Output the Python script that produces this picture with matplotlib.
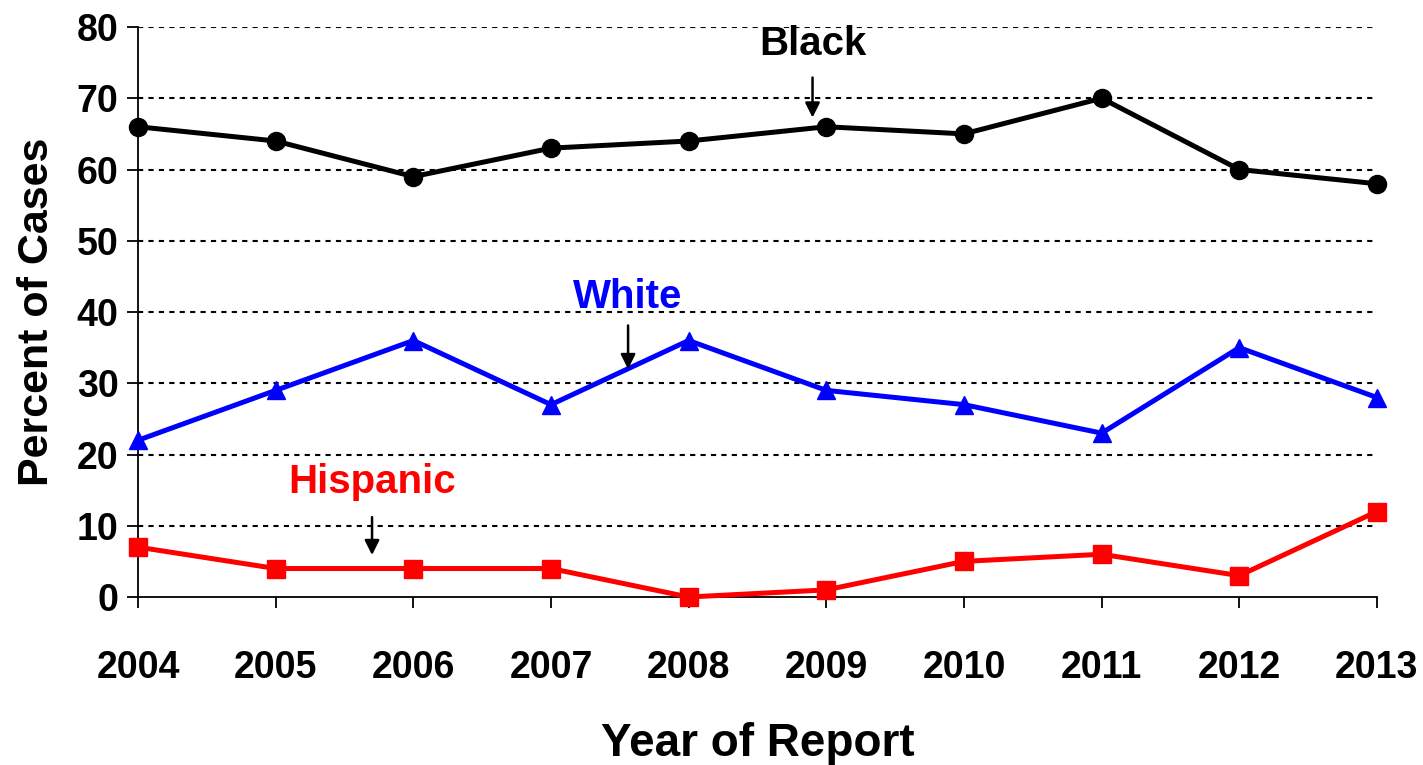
import matplotlib
matplotlib.use('Agg')
import matplotlib.pyplot as plt

years = [2004, 2005, 2006, 2007, 2008, 2009, 2010, 2011, 2012, 2013]
black = [66, 64, 59, 63, 64, 66, 65, 70, 60, 58]
white = [22, 29, 36, 27, 36, 29, 27, 23, 35, 28]
hispanic = [7, 4, 4, 4, 0, 1, 5, 6, 3, 12]

plt.rcParams['font.family'] = ['Liberation Sans', 'DejaVu Sans']
plt.rcParams['font.weight'] = 'bold'

fig = plt.figure(figsize=(14.23, 7.65), dpi=100)
ax = fig.add_axes([0.097, 0.2196, 0.8706, 0.7451])

ax.plot(years, black, color='black', lw=3.6, marker='o', ms=13, clip_on=False, zorder=3)
ax.plot(years, white, color='#0000ff', lw=3.6, marker='^', ms=13, clip_on=False, zorder=3)
ax.plot(years, hispanic, color='#ff0000', lw=3.6, marker='s', ms=13, clip_on=False, zorder=3)

ax.set_xlim(2004, 2013)
ax.set_ylim(0, 80)
ax.set_xticks(years)
ax.set_yticks(range(0, 81, 10))
for y in range(10, 81, 10):
    ax.axhline(y, color='black', lw=1.5, ls=(0, (2.5, 2.5)), zorder=1)

for s in ['top', 'right']:
    ax.spines[s].set_visible(False)
ax.spines['left'].set_linewidth(1.3)
ax.spines['bottom'].set_linewidth(1.3)
ax.tick_params(axis='y', length=8, width=1.3, pad=6, labelsize=27)
ax.tick_params(axis='x', length=8, width=1.3, pad=30, labelsize=27)

ax.set_xlabel('Year of Report', fontsize=33, fontweight='bold', labelpad=26)
ax.set_ylabel('Percent of Cases', fontsize=31, fontweight='bold', labelpad=14)

# series labels with arrows
arrow = dict(arrowstyle='-|>', color='black', lw=1.8, mutation_scale=22)
ax.text(2008.9, 77.6, 'Black', color='black', fontsize=29, fontweight='bold', ha='center', va='center')
ax.annotate('', xy=(2008.9, 66.9), xytext=(2008.9, 73.3), arrowprops=arrow)
ax.text(2007.56, 42.1, 'White', color='#0000ff', fontsize=29, fontweight='bold', ha='center', va='center')
ax.annotate('', xy=(2007.56, 31.6), xytext=(2007.56, 38.5), arrowprops=arrow)
ax.text(2005.7, 16.1, 'Hispanic', color='#ff0000', fontsize=29, fontweight='bold', ha='center', va='center')
ax.annotate('', xy=(2005.7, 5.5), xytext=(2005.7, 11.6), arrowprops=arrow)

fig.savefig('out.png', dpi=100)
